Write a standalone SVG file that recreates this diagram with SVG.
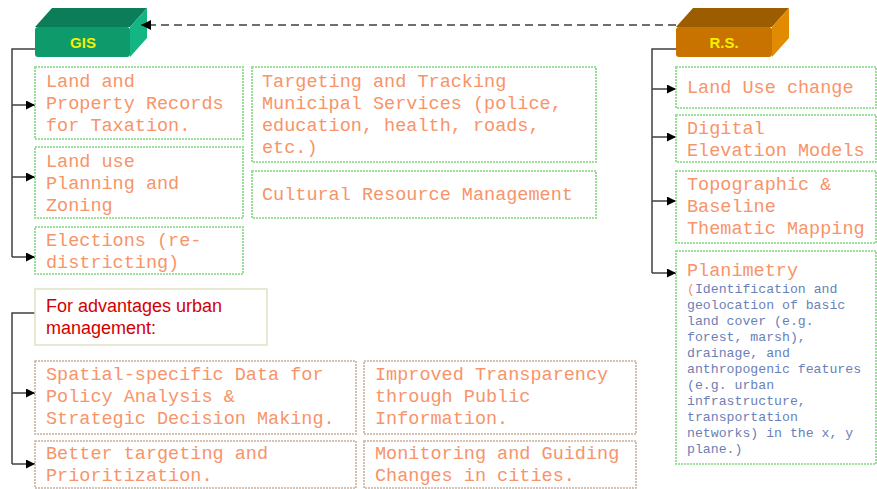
<svg xmlns="http://www.w3.org/2000/svg" width="877" height="489" viewBox="0 0 877 489">
<defs>
<marker id="ah" viewBox="0 0 10 10" refX="10" refY="5" markerWidth="9" markerHeight="9" markerUnits="userSpaceOnUse" orient="auto"><path d="M0,0 L10,5 L0,10 z" fill="#000"/></marker>
<marker id="ahd" viewBox="0 0 10 10" refX="10" refY="5" markerWidth="10" markerHeight="10" markerUnits="userSpaceOnUse" orient="auto"><path d="M0,0 L10,5 L0,10 z" fill="#000"/></marker>
</defs>
<style>
.g{fill:#fff;stroke:#7ed87e;stroke-width:1.6;stroke-dasharray:2 1}
.b{fill:#fff;stroke:#cbb09a;stroke-width:1.6;stroke-dasharray:2 1}
.t{font-family:"Liberation Mono","DejaVu Sans Mono",monospace;font-size:18.5px;fill:#f7946a}
.s{font-family:"Liberation Mono","DejaVu Sans Mono",monospace;font-size:13.2px;fill:#6a80b8}
.hd{font-family:"Liberation Sans",Arial,sans-serif;font-weight:bold;font-size:15px;fill:#f4f000;text-anchor:middle}
.c{fill:none;stroke:#404040;stroke-width:1.5}
</style>
<rect width="877" height="489" fill="#fff"/>

<g id="gis">
<polygon points="35,27 52,8 147,8 130,27" fill="#0b7d58"/>
<polygon points="130,27 147,8 147,38 130,57" fill="#13b583"/>
<rect x="35" y="27" width="95" height="30" rx="3" fill="#0f9a6c"/>
<text class="hd" x="83" y="48">GIS</text>
</g>

<g id="rs">
<polygon points="676,27 693,8 789,8 772,27" fill="#9c5c00"/>
<polygon points="772,27 789,8 789,38 772,57" fill="#e38b00"/>
<rect x="676" y="27" width="96" height="30" rx="3" fill="#c87200"/>
<text class="hd" x="724" y="48">R.S.</text>
</g>

<g id="connectors">
<path class="c" d="M676,25 H141" stroke="#000" stroke-width="2" stroke-dasharray="8 5" marker-end="url(#ahd)"/>
<path class="c" d="M35,49 H12 V257"/>
<path class="c" d="M12,105 H35" marker-end="url(#ah)"/>
<path class="c" d="M12,177 H35" marker-end="url(#ah)"/>
<path class="c" d="M12,257 H35" marker-end="url(#ah)"/>
<path class="c" d="M676,49 H652 V273"/>
<path class="c" d="M652,89 H676" marker-end="url(#ah)"/>
<path class="c" d="M652,137 H676" marker-end="url(#ah)"/>
<path class="c" d="M652,201 H676" marker-end="url(#ah)"/>
<path class="c" d="M652,273 H676" marker-end="url(#ah)"/>
<path class="c" d="M35,313 H12 V464"/>
<path class="c" d="M12,393 H35" marker-end="url(#ah)"/>
<path class="c" d="M12,464 H35" marker-end="url(#ah)"/>
</g>

<g id="land-property">
<rect class="g" x="35" y="67" width="208" height="72"/>
<text class="t" x="46" y="87">Land and</text>
<text class="t" x="46" y="109">Property Records</text>
<text class="t" x="46" y="131">for Taxation.</text>
</g>
<g id="land-use">
<rect class="g" x="35" y="147" width="208" height="71"/>
<text class="t" x="46" y="167">Land use</text>
<text class="t" x="46" y="189">Planning and</text>
<text class="t" x="46" y="211">Zoning</text>
</g>
<g id="elections">
<rect class="g" x="35" y="227" width="208" height="47"/>
<text class="t" x="46" y="246">Elections (re-</text>
<text class="t" x="46" y="268">districting)</text>
</g>
<g id="targeting">
<rect class="g" x="252" y="67" width="344" height="95"/>
<text class="t" x="262" y="87">Targeting and Tracking</text>
<text class="t" x="262" y="109">Municipal Services (police,</text>
<text class="t" x="262" y="131">education, health, roads,</text>
<text class="t" x="262" y="153">etc.)</text>
</g>
<g id="cultural">
<rect class="g" x="252" y="171" width="344" height="47"/>
<text class="t" x="262" y="200">Cultural Resource Management</text>
</g>

<g id="land-use-change">
<rect class="g" x="676" y="67" width="200" height="41"/>
<text class="t" x="687" y="93">Land Use change</text>
</g>
<g id="dem">
<rect class="g" x="676" y="115" width="200" height="47"/>
<text class="t" x="687" y="134">Digital</text>
<text class="t" x="687" y="156">Elevation Models</text>
</g>
<g id="topographic">
<rect class="g" x="676" y="171" width="200" height="72"/>
<text class="t" x="687" y="190">Topographic &amp;</text>
<text class="t" x="687" y="212">Baseline</text>
<text class="t" x="687" y="234">Thematic Mapping</text>
</g>
<g id="planimetry">
<rect class="g" x="676" y="251" width="200" height="213"/>
<text class="t" x="687" y="276">Planimetry</text>
<text class="s" x="687" y="293"><tspan fill="#f7946a">(</tspan>Identification and</text>
<text class="s" x="687" y="309">geolocation of basic</text>
<text class="s" x="687" y="325">land cover (e.g.</text>
<text class="s" x="687" y="341">forest, marsh),</text>
<text class="s" x="687" y="357">drainage, and</text>
<text class="s" x="687" y="373">anthropogenic features</text>
<text class="s" x="687" y="389">(e.g. urban</text>
<text class="s" x="687" y="405">infrastructure,</text>
<text class="s" x="687" y="421">transportation</text>
<text class="s" x="687" y="437">networks) in the x, y</text>
<text class="s" x="687" y="453">plane.)</text>
</g>

<g id="advantages">
<rect x="35" y="289" width="232" height="56" fill="#fff" stroke="#e2e2c4" stroke-width="1.5"/>
<text x="46" y="312" font-family="Liberation Sans, Arial, sans-serif" font-size="18px" fill="#d40000">For advantages urban</text>
<text x="46" y="334" font-family="Liberation Sans, Arial, sans-serif" font-size="18px" fill="#d40000">management:</text>
</g>
<g id="spatial">
<rect class="b" x="35" y="361" width="321" height="73"/>
<text class="t" x="46" y="380">Spatial-specific Data for</text>
<text class="t" x="46" y="402">Policy Analysis &amp;</text>
<text class="t" x="46" y="424">Strategic Decision Making.</text>
</g>
<g id="transparency">
<rect class="b" x="364" y="361" width="272" height="73"/>
<text class="t" x="375" y="380">Improved Transparency</text>
<text class="t" x="375" y="402">through Public</text>
<text class="t" x="375" y="424">Information.</text>
</g>
<g id="better">
<rect class="b" x="35" y="441" width="321" height="47"/>
<text class="t" x="46" y="459">Better targeting and</text>
<text class="t" x="46" y="481">Prioritization.</text>
</g>
<g id="monitoring">
<rect class="b" x="364" y="441" width="272" height="47"/>
<text class="t" x="375" y="459">Monitoring and Guiding</text>
<text class="t" x="375" y="481">Changes in cities.</text>
</g>
</svg>
